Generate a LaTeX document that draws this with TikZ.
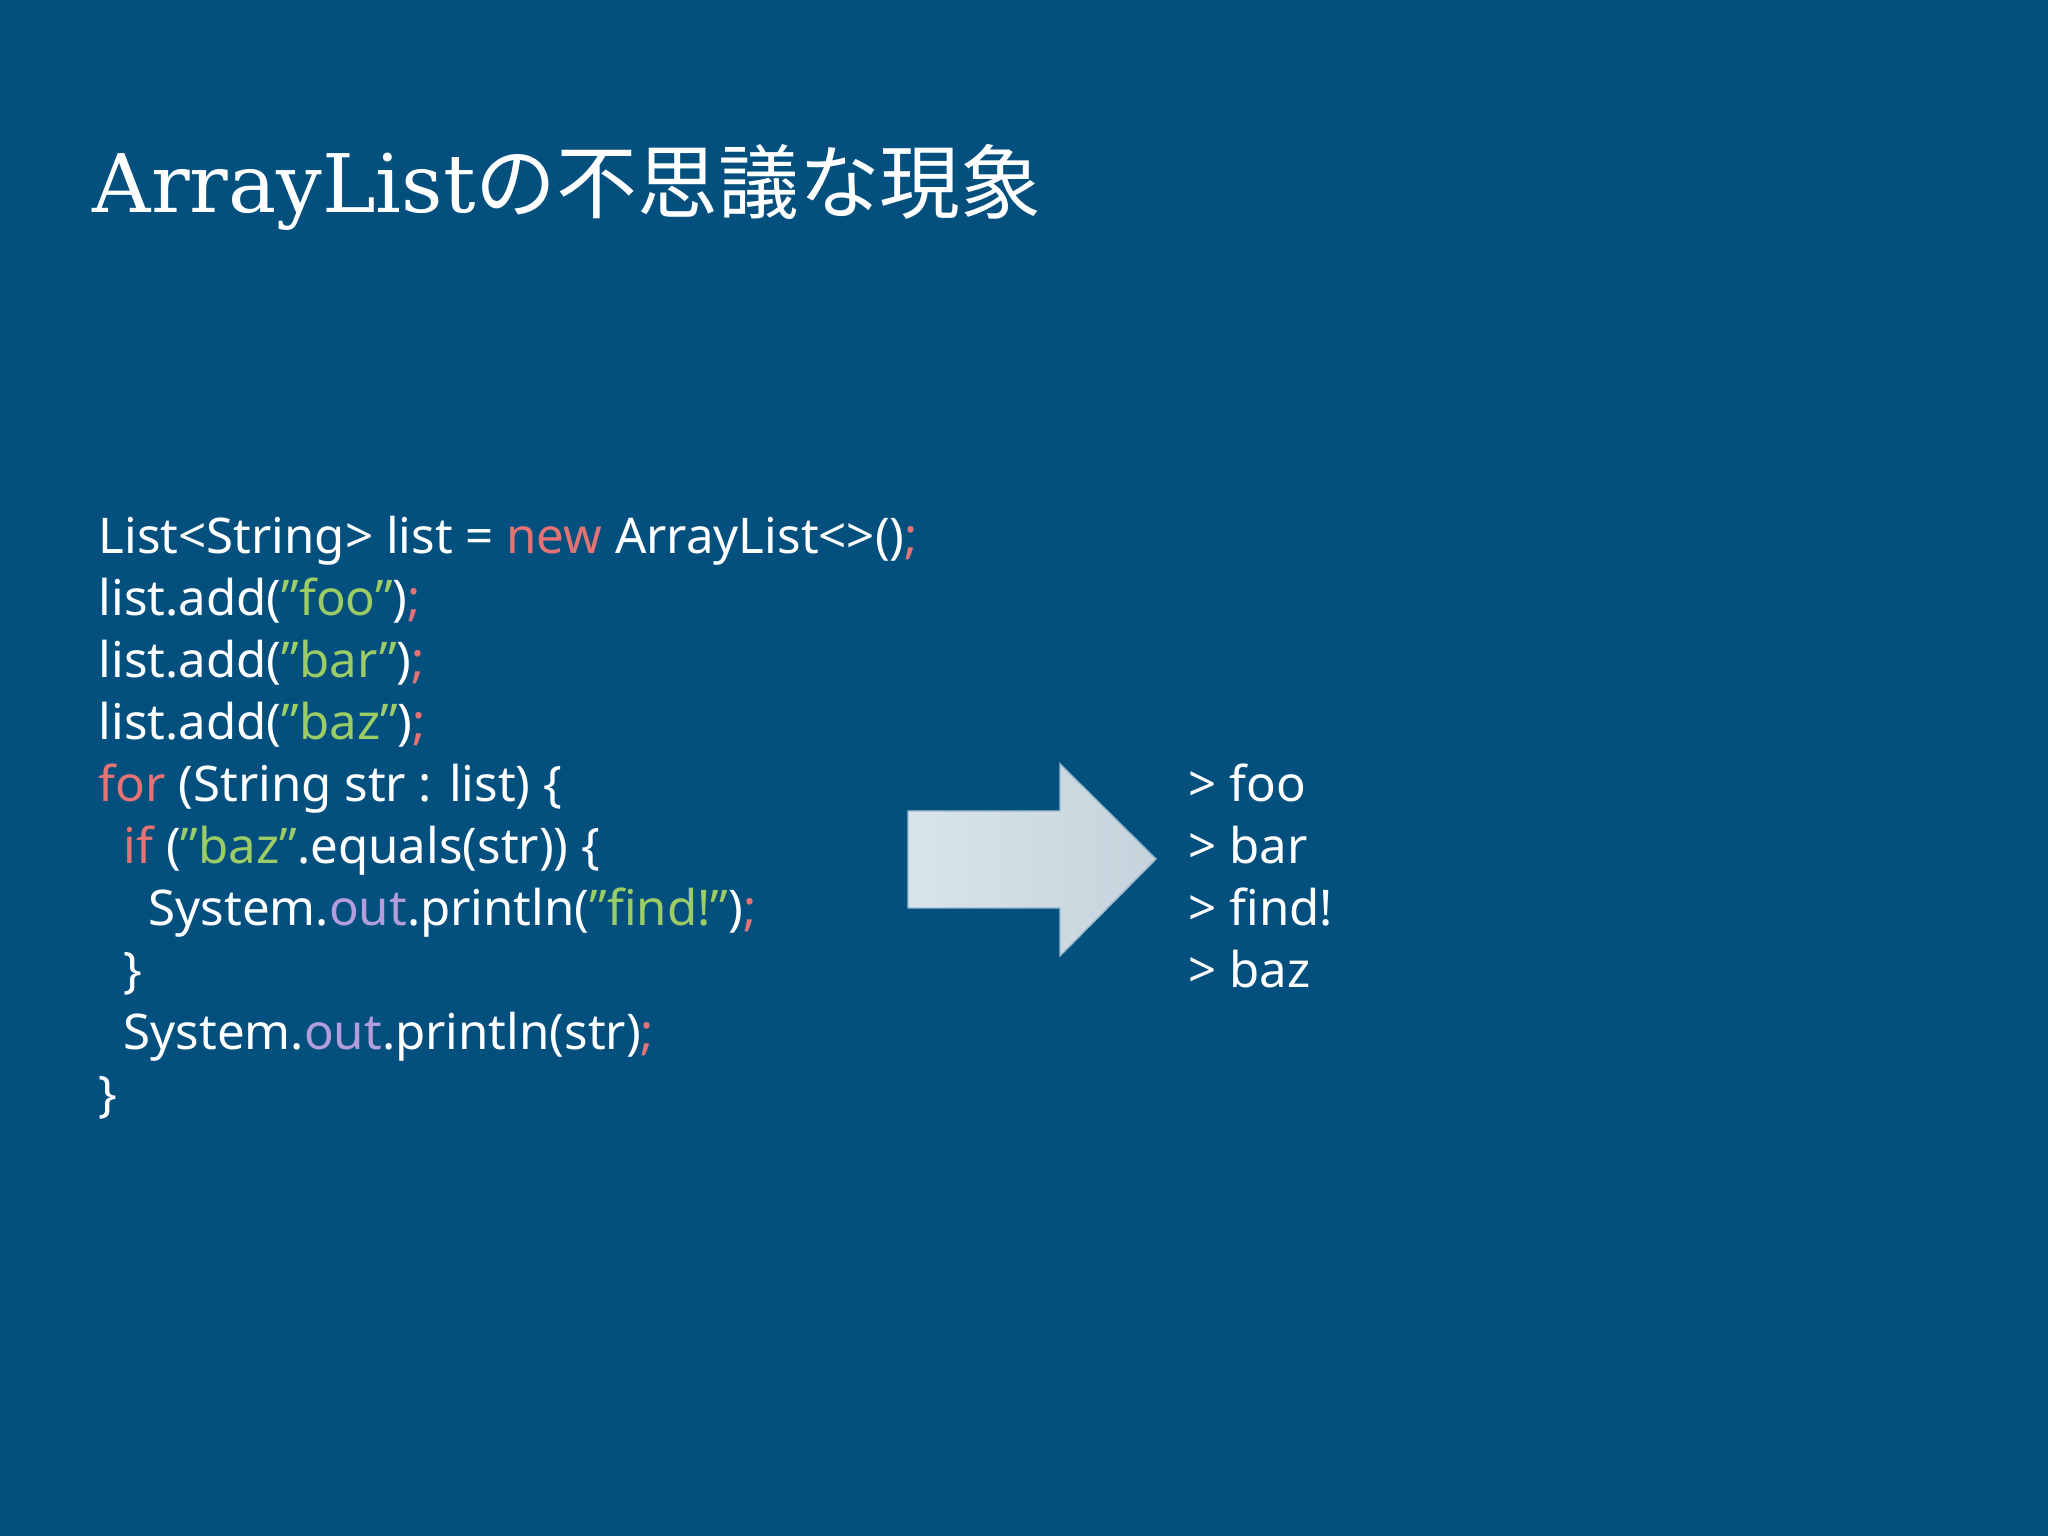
\documentclass[tikz,border=0pt]{standalone}
\usepackage{fontspec}
\setmainfont{Noto Sans}
\newfontfamily\titlefont{DejaVu Serif}
\newfontfamily\cjk{Noto Sans CJK JP}
\definecolor{bg}{HTML}{03507F}
\definecolor{kw}{HTML}{E57373}
\definecolor{st}{HTML}{9CCC65}
\definecolor{pu}{HTML}{B39DDB}
\newcommand{\K}[1]{\textcolor{kw}{#1}}
\newcommand{\Sg}[1]{\textcolor{st}{\symbol{34}#1\symbol{34}}}
\newcommand{\Pu}[1]{\textcolor{pu}{#1}}
\begin{document}
\begin{tikzpicture}[x=1cm,y=1cm,
  code/.style={anchor=base west,inner sep=0,text=white,font=\fontsize{14}{16}\selectfont},
  outp/.style={anchor=base west,inner sep=0,text=white,font=\fontsize{14}{16}\selectfont}]
\fill[bg] (0,0) rectangle (20.48,15.36);
\useasboundingbox (0,0) rectangle (20.48,15.36);
\node[anchor=base west,inner sep=0,text=white,font=\fontsize{23}{26}\selectfont] (title) at (0.92,13.23) {\titlefont ArrayList\cjk の不思議な現象};
\node[code] (l1) at (0.98,9.82) {List<String> list = \K{new} ArrayList<>()\K{;}};
\node[code] (l2) at (0.98,9.20) {list.add(\Sg{foo})\K{;}};
\node[code] (l3) at (0.98,8.58) {list.add(\Sg{bar})\K{;}};
\node[code] (l4) at (0.98,7.96) {list.add(\Sg{baz})\K{;}};
\node[code] (l5) at (0.98,7.34) {\K{for} (String str : list) \{};
\node[code] (l6) at (1.23,6.72) {\K{if} (\Sg{baz}.equals(str)) \{};
\node[code] (l7) at (1.48,6.10) {System.\Pu{out}.println(\Sg{find!})\K{;}};
\node[code] (l8) at (1.23,5.48) {\}};
\node[code] (l9) at (1.23,4.86) {System.\Pu{out}.println(str)\K{;}};
\node[code] (l10) at (0.98,4.24) {\}};
\shade[left color=white!85!bg, right color=white!80!bg!90!gray, draw=white!60!bg, line width=0.4pt]
  (9.08,7.25) -- (10.60,7.25) -- (10.60,7.72) -- (11.56,6.77) -- (10.60,5.80) -- (10.60,6.28) -- (9.08,6.28) -- cycle;
\node[outp] (o1) at (11.88,7.34) {> foo};
\node[outp] (o2) at (11.88,6.72) {> bar};
\node[outp] (o3) at (11.88,6.10) {> find!};
\node[outp] (o4) at (11.88,5.48) {> baz};
\end{tikzpicture}
\end{document}
